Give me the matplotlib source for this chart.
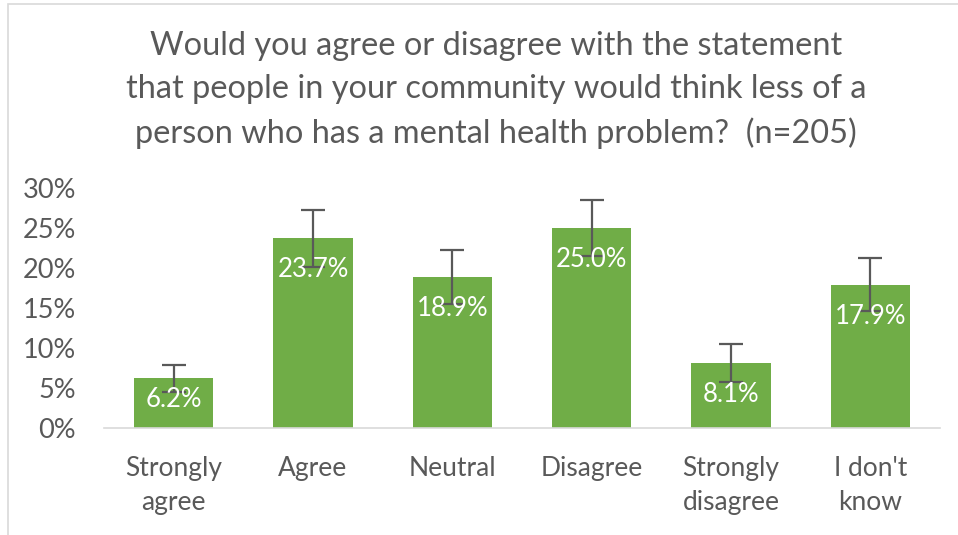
import matplotlib.pyplot as plt
from matplotlib.patches import Rectangle

# data
categories = ["Strongly\nagree", "Agree", "Neutral", "Disagree", "Strongly\ndisagree", "I don't\nknow"]
values = [6.2, 23.7, 18.9, 25.0, 8.1, 17.9]
errors = [1.7, 3.6, 3.4, 3.5, 2.35, 3.3]

title = ("Would you agree or disagree with the statement\n"
         "that people in your community would think less of a\n"
         "person who has a mental health problem?  (n=205)")

green = "#70ad47"
grey = "#595959"
plt.rcParams['font.family'] = ['Lato', 'DejaVu Sans']

fig = plt.figure(figsize=(9.58, 5.35), dpi=100)
ax = fig.add_axes([104/958, 1 - 428/535, 836/958, 240/535])

x = range(len(categories))
ax.bar(x, values, width=0.57, color=green, zorder=2)
ax.errorbar(x, values, yerr=errors, fmt='none', ecolor=grey, elinewidth=1.6,
            capsize=8.5, capthick=1.6, zorder=3)

# labels sit just inside the bar top, kept inside short bars
for i, v in enumerate(values):
    ax.text(i, max(v - 3.9, 3.6), f"{v:.1f}%", ha='center', va='center',
            color='white', fontsize=18.5, zorder=4)

ax.set_xlim(-0.5, len(categories) - 0.5)
ax.set_ylim(0, 30)
ax.set_yticks(range(0, 31, 5))
ax.set_yticklabels([f"{t}%" for t in range(0, 31, 5)])
ax.set_xticks(list(x))
ax.set_xticklabels(categories, linespacing=1.45)
ax.tick_params(axis='y', length=0, pad=20, labelsize=19.5, labelcolor=grey)
ax.tick_params(axis='x', length=0, pad=20, labelsize=19, labelcolor=grey)
for s in ['top', 'right', 'left']:
    ax.spines[s].set_visible(False)
ax.spines['bottom'].set_color('#d9d9d9')
ax.spines['bottom'].set_linewidth(1.2)

fig.text(496/958, 1 - 90/535, title, ha='center', va='center', fontsize=23.4,
         color=grey, linespacing=1.52)

fig.patches.append(Rectangle((8/958, -0.1), 1.2, 1 - 4/535 + 0.1, transform=fig.transFigure,
                             fill=False, edgecolor='#d9d9d9', linewidth=1.2))

fig.savefig("out.png", dpi=100)
